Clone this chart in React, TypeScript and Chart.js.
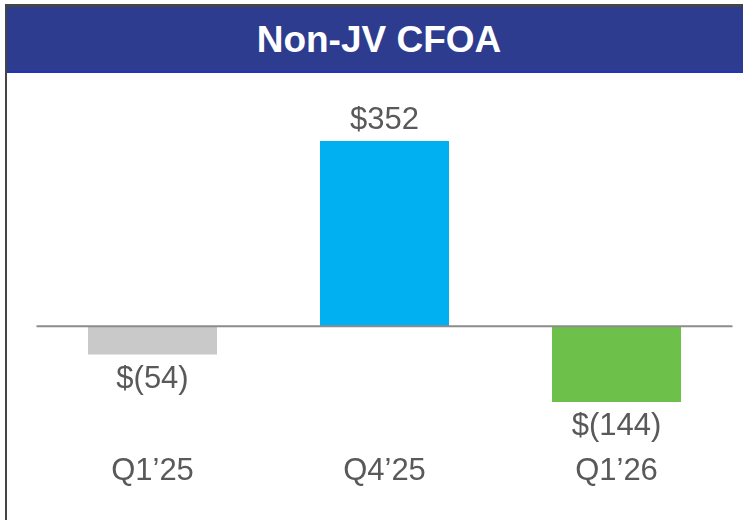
import React, { useEffect, useRef } from "react";
import { Chart, registerables } from "chart.js";

Chart.register(...registerables);

const categories = ["Q1\u201925", "Q4\u201925", "Q1\u201926"];
const values = [-54, 352, -144];
const valueLabels = ["$(54)", "$352", "$(144)"];
const barColors = ["#C9C9C9", "#00B0F0", "#6DC04A"];
const title = "Non-JV CFOA";

const FONT = '"Liberation Sans", Arial, Helvetica, sans-serif';
const TEXT = "#595959";

const labelsPlugin = {
  id: "valueLabels",
  afterDatasetsDraw(chart: any) {
    const { ctx, chartArea, scales } = chart;
    const y0 = scales.y.getPixelForValue(0);
    ctx.save();
    ctx.strokeStyle = "#8C8C8C";
    ctx.lineWidth = 2;
    ctx.beginPath();
    ctx.moveTo(chartArea.left, y0);
    ctx.lineTo(chartArea.right, y0);
    ctx.stroke();
    const meta = chart.getDatasetMeta(0);
    ctx.font = `31px ${FONT}`;
    ctx.fillStyle = TEXT;
    ctx.textAlign = "center";
    ctx.textBaseline = "alphabetic";
    meta.data.forEach((bar: any, i: number) => {
      const v = values[i];
      const y = v >= 0 ? bar.y - 12 : bar.y + 33;
      ctx.fillText(valueLabels[i], bar.x, y);
    });
    ctx.restore();
  },
};

export default function App() {
  const ref = useRef<HTMLCanvasElement>(null);
  useEffect(() => {
    document.body.style.margin = "0";
    const chart = new Chart(ref.current!, {
      type: "bar",
      data: {
        labels: categories,
        datasets: [
          {
            data: values,
            backgroundColor: barColors,
            borderWidth: 0,
            categoryPercentage: 1,
            barPercentage: 0.556,
          },
        ],
      },
      options: {
        animation: false,
        responsive: false,
        layout: { padding: { left: 29.5, right: 10.5, top: 42.8, bottom: 9.4 } },
        plugins: { legend: { display: false }, tooltip: { enabled: false } },
        scales: {
          y: { display: false, min: -200, max: 400 },
          x: {
            grid: { display: false, drawTicks: false },
            border: { display: false },
            ticks: { padding: 21, color: TEXT, font: { size: 31, family: FONT } },
          },
        },
      },
      plugins: [labelsPlugin],
    });
    return () => chart.destroy();
  }, []);

  return (
    <div style={{ position: "absolute", left: 0, top: 0, width: 743, height: 520, overflow: "hidden", background: "#fff" }}>
      <div style={{ position: "absolute", left: 5, top: 4, width: 738, height: 3, background: "#454545" }} />
      <div style={{ position: "absolute", left: 5, top: 4, width: 2, height: 516, background: "#454545" }} />
      <div
        style={{
          position: "absolute",
          left: 7,
          top: 7,
          width: 736,
          height: 64,
          background: "#2E3C8F",
          color: "#fff",
          fontFamily: FONT,
          fontWeight: "bold",
          fontSize: 37,
          display: "flex",
          alignItems: "center",
          justifyContent: "center",
          lineHeight: "64px",
        }}
      >
        <span style={{ position: "relative", left: 4, top: 1 }}>{title}</span>
      </div>
      <div style={{ position: "absolute", left: 7, top: 71, width: 736, height: 2, background: "#2334BA" }} />
      <canvas ref={ref} width={736} height={447} style={{ position: "absolute", left: 7, top: 73, width: 736, height: 447 }} />
    </div>
  );
}
